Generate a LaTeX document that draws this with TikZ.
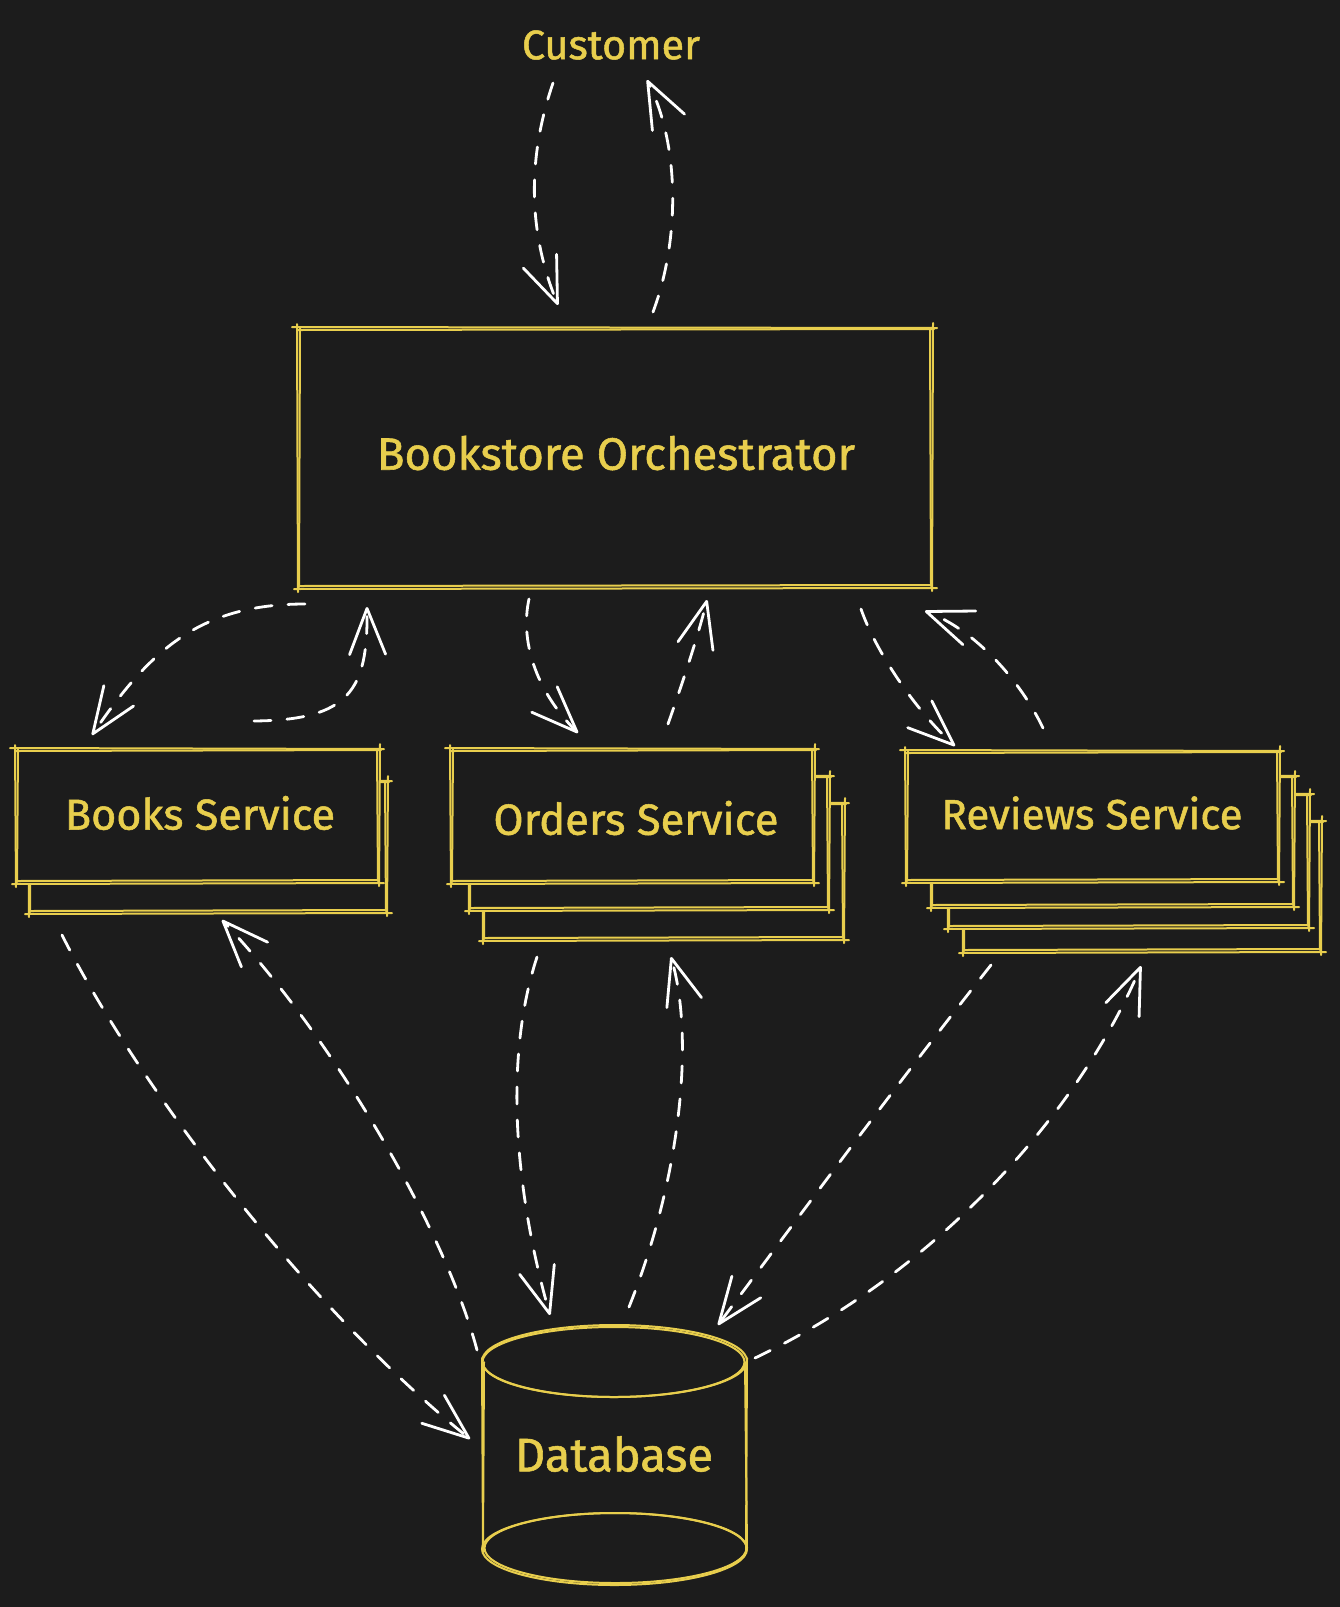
\documentclass[tikz,border=0pt]{standalone}
\usepackage{fontspec}
\setmainfont{Fira Sans}
\newfontfamily\lblfont{Fira Sans}[FakeBold=1.2]
\usetikzlibrary{arrows.meta}
\definecolor{bgc}{RGB}{28,28,28}
\definecolor{ylw}{RGB}{232,206,77}
\newcommand{\fitw}[2]{\resizebox{#1pt}{!}{\lblfont #2}}
% sketchy rectangle: x1 y1 x2 y2 (pixel coords, y downwards)
\newcommand{\skrect}[4]{%
  \fill[bgc] (#1,#2) rectangle (#3,#4);
  \draw[sk] (#1-5,#2) -- (#3+4,#2+1);
  \draw[sk] (#1+1,#2+3) -- (#3+1,#2+2);
  \draw[sk] (#1-3,#4+1) -- (#3+4,#4);
  \draw[sk] (#1+1,#4-2) -- (#3-1,#4-3);
  \draw[sk] (#1,#2-3) -- (#1+1,#4+4);
  \draw[sk] (#1+3,#2+1) -- (#1+2,#4-1);
  \draw[sk] (#3,#2-4) -- (#3-1,#4+3);
  \draw[sk] (#3-3,#2+1) -- (#3-2,#4-2);
}
\begin{document}
\begin{tikzpicture}[x=1pt,y=-1pt,
  sk/.style={draw=ylw,line width=2pt,line cap=round},
  lbl/.style={text=ylw,inner sep=0pt},
  arr/.style={draw=white,line width=2.8pt,line cap=round,
    dash pattern=on 17pt off 16pt,
    -{Straight Barb[length=46pt,width=36pt,round]}}]
\fill[bgc] (0,0) rectangle (1340,1607);
\useasboundingbox (0,0) rectangle (1340,1607);

% Customer
\node[lbl] (cust) at (611,45) {\fitw{178}{Customer}};

% Orchestrator
\skrect{297}{327}{933}{588}
\node[lbl] (orch) at (616,453) {\fitw{478}{Bookstore Orchestrator}};

% Books Service (2 layers)
\skrect{28}{780}{388}{913}
\skrect{15}{748}{380}{883}
\node[lbl] (books) at (200,813) {\fitw{270}{Books Service}};

% Orders Service (3 layers)
\skrect{482}{802}{845}{940}
\skrect{468}{775}{830}{910}
\skrect{450}{748}{815}{883}
\node[lbl] (orders) at (636,818) {\fitw{285}{Orders Service}};

% Reviews Service (4 layers)
\skrect{962}{820}{1322}{952}
\skrect{947}{793}{1310}{928}
\skrect{930}{775}{1295}{907}
\skrect{905}{750}{1280}{882}
\node[lbl] (reviews) at (1092,813) {\fitw{301}{Reviews Service}};

% Database cylinder
\draw[sk] (614.5,1549) ellipse [x radius=132.5, y radius=36];
\draw[sk] (615.5,1548) ellipse [x radius=131, y radius=35];
\draw[sk] (614.5,1361) ellipse [x radius=132.5, y radius=36];
\draw[sk] (613.5,1362) ellipse [x radius=131, y radius=35];
\draw[sk] (482,1358) -- (483,1552);
\draw[sk] (484,1362) -- (483,1548);
\draw[sk] (747,1358) -- (746,1552);
\draw[sk] (745,1362) -- (747,1548);
\node[lbl] (db) at (614,1454) {\fitw{198}{Database}};

% connector end points
\coordinate (a1s) at (553,83);   \coordinate (a1e) at (558,305);
\coordinate (a2s) at (653,312);  \coordinate (a2e) at (647,80);
\coordinate (a3s) at (305,604);  \coordinate (a3e) at (92,735);
\coordinate (a4s) at (254,721);  \coordinate (a4e) at (367,607);
\coordinate (a5s) at (529,599);  \coordinate (a5e) at (578,733);
\coordinate (a6s) at (668,724);  \coordinate (a6e) at (707,600);
\coordinate (a7s) at (861,609);  \coordinate (a7e) at (955,746);
\coordinate (a8s) at (1043,728); \coordinate (a8e) at (925,611);
\coordinate (a9s) at (62,935);   \coordinate (a9e) at (470,1439);
\coordinate (a10s) at (477,1350); \coordinate (a10e) at (222,920);
\coordinate (a11s) at (537,957);  \coordinate (a11e) at (550,1315);
\coordinate (a12s) at (629,1307); \coordinate (a12e) at (671,957);
\coordinate (a13s) at (991,965);  \coordinate (a13e) at (718,1325);
\coordinate (a14s) at (755,1358); \coordinate (a14e) at (1141,966);

% connectors
\draw[arr] (a1s) .. controls (530,150) and (525,225) .. (a1e);
\draw[arr] (a2s) .. controls (680,240) and (680,145) .. (a2e);
\draw[arr] (a3s) .. controls (200,604) and (150,650) .. (a3e);
\draw[arr] (a4s) .. controls (350,720) and (368,690) .. (a4e);
\draw[arr] (a5s) .. controls (520,640) and (535,690) .. (a5e);
\draw[arr] (a6s) .. controls (680,690) and (697,640) .. (a6e);
\draw[arr] (a7s) .. controls (875,650) and (915,710) .. (a7e);
\draw[arr] (a8s) .. controls (1020,680) and (975,630) .. (a8e);
\draw[arr] (a9s) .. controls (140,1090) and (310,1310) .. (a9e);
\draw[arr] (a10s) .. controls (445,1230) and (335,1040) .. (a10e);
\draw[arr] (a11s) .. controls (500,1070) and (520,1210) .. (a11e);
\draw[arr] (a12s) .. controls (680,1180) and (695,1040) .. (a12e);
\draw[arr] (a13s) .. controls (900,1080) and (800,1215) .. (a13e);
\draw[arr] (a14s) .. controls (940,1270) and (1080,1110) .. (a14e);
\end{tikzpicture}
\end{document}
